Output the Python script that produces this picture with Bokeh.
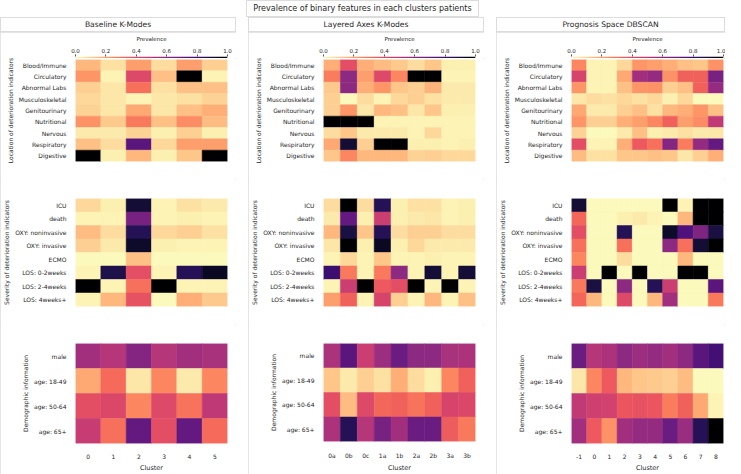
import numpy as np
from bokeh.plotting import figure
from bokeh.layouts import column, row
from bokeh.models import (ColumnDataSource, FactorRange, Range1d, LinearColorMapper,
                          FixedTicker, PrintfTickFormatter, Spacer, Div)
from bokeh.palettes import Magma256
from bokeh.transform import transform
from bokeh.embed import file_html
from bokeh.resources import INLINE

# ---------------- data ----------------
TITLE = "Prevalence of binary features in each clusters patients"
METHODS = ["Baseline K-Modes", "Layered Axes K-Modes", "Prognosis Space DBSCAN"]
GROUP_LABELS = ["Location of deterioration indicators",
                "Severity of deterioration indicators",
                "Demographic information"]
COLORBAR_LABEL = "Prevalence"
COLORBAR_TICKS = [0.0, 0.2, 0.4, 0.6, 0.8, 1.0]
X_LABEL = "Cluster"

clusters_baseline = ["0", "1", "2", "3", "4", "5"]
clusters_layered = ["0a", "0b", "0c", "1a", "1b", "2a", "2b", "3a", "3b"]
clusters_dbscan = ["-1", "0", "1", "2", "3", "4", "5", "6", "7", "8"]

location_features = ["Blood/Immune", "Circulatory", "Abnormal Labs", "Musculoskeletal",
                     "Genitourinary", "Nutritional", "Nervous", "Respiratory", "Digestive"]
severity_features = ["ICU", "death", "OXY: noninvasive", "OXY: invasive", "ECMO",
                     "LOS: 0-2weeks", "LOS: 2-4weeks", "LOS: 4weeks+"]
demographic_features = ["male", "age: 18-49", "age: 50-64", "age: 65+"]

# Baseline K-Modes (rows = features, cols = clusters 0..5)
baseline_location = [
    [0.15, 0.06, 0.20, 0.07, 0.20, 0.10],
    [0.22, 0.02, 0.40, 0.13, 1.00, 0.02],
    [0.10, 0.05, 0.30, 0.06, 0.13, 0.13],
    [0.08, 0.05, 0.02, 0.05, 0.06, 0.09],
    [0.09, 0.05, 0.18, 0.05, 0.13, 0.17],
    [0.23, 0.11, 0.28, 0.13, 0.24, 0.14],
    [0.04, 0.04, 0.09, 0.03, 0.10, 0.03],
    [0.13, 0.07, 0.72, 0.08, 0.20, 0.20],
    [1.00, 0.03, 0.15, 0.03, 0.12, 1.00],
]
baseline_severity = [
    [0.08, 0.03, 0.90, 0.02, 0.06, 0.04],
    [0.02, 0.02, 0.65, 0.02, 0.03, 0.02],
    [0.14, 0.07, 0.85, 0.08, 0.10, 0.06],
    [0.10, 0.04, 0.92, 0.03, 0.02, 0.02],
    [0.01, 0.01, 0.13, 0.01, 0.01, 0.01],
    [0.02, 0.87, 0.38, 0.02, 0.85, 0.93],
    [1.00, 0.02, 0.30, 1.00, 0.02, 0.02],
    [0.02, 0.15, 0.37, 0.01, 0.17, 0.11],
]
baseline_demographic = [
    [0.55, 0.50, 0.62, 0.50, 0.55, 0.53],
    [0.18, 0.31, 0.05, 0.25, 0.04, 0.25],
    [0.38, 0.41, 0.25, 0.40, 0.29, 0.48],
    [0.46, 0.30, 0.70, 0.38, 0.70, 0.31],
]

# Layered Axes K-Modes (cols = 0a..3b)
layered_location = [
    [0.17, 0.38, 0.17, 0.14, 0.11, 0.07, 0.12, 0.03, 0.03],
    [0.27, 0.60, 0.20, 0.40, 0.25, 1.00, 1.00, 0.02, 0.02],
    [0.11, 0.60, 0.17, 0.22, 0.12, 0.10, 0.16, 0.04, 0.04],
    [0.10, 0.01, 0.07, 0.02, 0.08, 0.10, 0.06, 0.04, 0.04],
    [0.10, 0.22, 0.05, 0.15, 0.13, 0.05, 0.12, 0.03, 0.03],
    [1.00, 1.00, 1.00, 0.02, 0.02, 0.02, 0.02, 0.02, 0.02],
    [0.07, 0.12, 0.04, 0.04, 0.04, 0.02, 0.08, 0.02, 0.02],
    [0.18, 0.90, 0.10, 1.00, 1.00, 0.03, 0.03, 0.02, 0.03],
    [0.12, 0.25, 0.15, 0.15, 0.15, 0.09, 0.10, 0.08, 0.08],
]
layered_severity = [
    [0.07, 1.00, 0.07, 0.85, 0.03, 0.06, 0.06, 0.02, 0.03],
    [0.04, 0.70, 0.03, 0.45, 0.03, 0.04, 0.05, 0.02, 0.03],
    [0.15, 0.88, 0.12, 0.85, 0.07, 0.10, 0.10, 0.07, 0.07],
    [0.05, 1.00, 0.03, 0.93, 0.03, 0.08, 0.04, 0.04, 0.04],
    [0.02, 0.08, 0.02, 0.12, 0.02, 0.02, 0.03, 0.02, 0.02],
    [0.80, 0.28, 0.02, 0.28, 0.60, 0.02, 0.90, 0.02, 0.90],
    [0.02, 0.45, 1.00, 0.35, 0.38, 1.00, 0.02, 1.00, 0.02],
    [0.20, 0.33, 0.02, 0.42, 0.10, 0.02, 0.15, 0.02, 0.13],
]
layered_demographic = [
    [0.52, 0.72, 0.45, 0.56, 0.68, 0.60, 0.60, 0.53, 0.52],
    [0.12, 0.04, 0.10, 0.06, 0.17, 0.07, 0.03, 0.25, 0.33],
    [0.38, 0.14, 0.40, 0.32, 0.33, 0.29, 0.33, 0.42, 0.41],
    [0.52, 0.85, 0.50, 0.65, 0.55, 0.68, 0.68, 0.34, 0.28],
]

# Prognosis Space DBSCAN (cols = -1..8)
dbscan_location = [
    [0.25, 0.02, 0.02, 0.08, 0.22, 0.20, 0.17, 0.13, 0.12, 0.23],
    [0.42, 0.02, 0.02, 0.18, 0.55, 0.58, 0.23, 0.33, 0.33, 0.65],
    [0.22, 0.02, 0.02, 0.13, 0.22, 0.23, 0.10, 0.13, 0.33, 0.58],
    [0.05, 0.07, 0.06, 0.08, 0.06, 0.08, 0.03, 0.08, 0.01, 0.01],
    [0.18, 0.04, 0.04, 0.10, 0.13, 0.06, 0.15, 0.17, 0.22, 0.13],
    [0.22, 0.10, 0.10, 0.17, 0.20, 0.25, 0.33, 0.20, 0.24, 0.47],
    [0.09, 0.01, 0.01, 0.04, 0.13, 0.03, 0.04, 0.06, 0.04, 0.05],
    [0.38, 0.02, 0.02, 0.17, 0.35, 0.30, 0.62, 0.27, 0.58, 0.70],
    [0.14, 0.06, 0.06, 0.12, 0.12, 0.13, 0.12, 0.05, 0.10, 0.17],
]
dbscan_severity = [
    [0.90, 0.01, 0.01, 0.01, 0.01, 0.01, 1.00, 0.02, 1.00, 1.00],
    [0.32, 0.01, 0.01, 0.03, 0.04, 0.02, 0.01, 0.15, 1.00, 1.00],
    [0.38, 0.01, 0.01, 0.85, 0.01, 0.01, 0.92, 0.75, 0.63, 0.88],
    [0.30, 0.01, 0.01, 0.30, 0.01, 0.01, 0.60, 0.30, 0.90, 1.00],
    [0.25, 0.01, 0.01, 0.07, 0.01, 0.01, 0.01, 0.15, 0.01, 0.01],
    [0.45, 0.01, 1.00, 0.01, 1.00, 0.01, 0.01, 1.00, 1.00, 0.01],
    [0.28, 0.88, 0.01, 0.60, 0.01, 0.85, 0.45, 0.01, 0.01, 0.72],
    [0.32, 0.15, 0.01, 0.40, 0.01, 0.15, 0.55, 0.01, 0.01, 0.28],
]
dbscan_demographic = [
    [0.68, 0.50, 0.52, 0.60, 0.56, 0.58, 0.55, 0.60, 0.72, 0.78],
    [0.05, 0.25, 0.35, 0.15, 0.12, 0.11, 0.10, 0.14, 0.01, 0.01],
    [0.47, 0.44, 0.43, 0.36, 0.37, 0.36, 0.27, 0.33, 0.18, 0.02],
    [0.55, 0.35, 0.23, 0.55, 0.58, 0.58, 0.68, 0.57, 0.85, 1.00],
]

# ---------------- styling ----------------
FONT = "DejaVu Sans"
TXT = "#262626"
BOX = "#dcdcdc"
mapper = LinearColorMapper(palette=list(reversed(Magma256)), low=0, high=1)

L = 66          # left border (y axis room)
F = 161         # heatmap frame width
OUTLINE = {"outline": f"1px solid {BOX}", "outline-offset": "-1px"}


def blank(fig):
    fig.grid.visible = False
    fig.outline_line_color = None
    fig.background_fill_color = "white"
    fig.border_fill_color = "white"


def sub_title_div(text, width):
    st = dict(OUTLINE)
    st.update({"font-family": FONT, "font-size": "7.6px", "color": TXT,
               "text-align": "center", "line-height": "15px", "white-space": "nowrap"})
    return Div(text=text, width=width, height=15, margin=0, styles=st)


def colorbar_fig(width, right):
    p = figure(width=width, height=26, x_range=Range1d(0, 1), y_range=Range1d(0, 1),
               x_axis_location="above", y_axis_location=None, toolbar_location=None,
               output_backend="svg", min_border_left=L, min_border_right=right,
               min_border_top=21, min_border_bottom=0)
    blank(p)
    grad = np.linspace(0, 1, 256).reshape(1, -1)
    p.image(image=[grad], x=0, y=0, dw=1, dh=1, color_mapper=mapper)
    ax = p.xaxis[0]
    ax.ticker = FixedTicker(ticks=COLORBAR_TICKS)
    ax.formatter = PrintfTickFormatter(format="%.1f")
    ax.axis_line_color = None
    ax.major_tick_out = 2
    ax.major_tick_in = 0
    ax.major_tick_line_color = "#555555"
    ax.minor_tick_line_color = None
    ax.major_label_text_font = FONT
    ax.major_label_text_font_size = "5.5px"
    ax.major_label_text_color = TXT
    ax.major_label_standoff = 2
    ax.axis_label = COLORBAR_LABEL
    ax.axis_label_text_font = FONT
    ax.axis_label_text_font_size = "5.5px"
    ax.axis_label_text_font_style = "normal"
    ax.axis_label_text_color = TXT
    ax.axis_label_standoff = 3
    return p


def heat(clusters, features, values, ylabel, width, right, top, frame_h, bottom, show_x):
    xs, ys, vs = [], [], []
    for i, f in enumerate(features):
        for j, c in enumerate(clusters):
            xs.append(c)
            ys.append(f)
            vs.append(values[i][j])
    src = ColumnDataSource(dict(x=xs, y=ys, v=vs))
    p = figure(width=width, height=top + frame_h + bottom,
               x_range=FactorRange(*clusters), y_range=FactorRange(*list(reversed(features))),
               x_axis_location="below" if show_x else None,
               toolbar_location=None, output_backend="svg",
               min_border_left=L, min_border_right=right,
               min_border_top=top, min_border_bottom=bottom)
    blank(p)
    p.rect("x", "y", 1, 1, source=src, fill_color=transform("v", mapper),
           line_color=transform("v", mapper), line_width=0.5)
    axes = list(p.yaxis) + (list(p.xaxis) if show_x else [])
    for ax in axes:
        ax.axis_line_color = None
        ax.major_tick_line_color = None
        ax.minor_tick_line_color = None
        ax.major_label_text_font = FONT
        ax.major_label_text_font_size = "6px"
        ax.major_label_text_color = TXT
        ax.major_label_standoff = 3
        ax.axis_label_text_font = FONT
        ax.axis_label_text_font_size = "6px"
        ax.axis_label_text_font_style = "normal"
        ax.axis_label_text_color = TXT
        ax.axis_label_standoff = 2
    p.yaxis.axis_label = ylabel
    if show_x:
        p.xaxis.axis_label = X_LABEL
        p.xaxis.major_label_standoff = 4
        p.xaxis.axis_label_text_font_size = "6.5px"
    return p


def method_column(idx, clusters, loc, sev, demo, right):
    width = L + F + right
    sub = sub_title_div(METHODS[idx], width)
    cb = colorbar_fig(width, right)
    f1 = heat(clusters, location_features, loc, GROUP_LABELS[0], width, right, 1, 102, 18, False)
    f2 = heat(clusters, severity_features, sev, GROUP_LABELS[1], width, right, 19, 108, 18, False)
    f3 = heat(clusters, demographic_features, demo, GROUP_LABELS[2], width, right, 19, 107, 24, True)
    body = column(cb, f1, f2, f3, spacing=0, styles=OUTLINE)
    return column(sub, body, spacing=0)


c1 = method_column(0, clusters_baseline, baseline_location, baseline_severity, baseline_demographic, 9)
c2 = method_column(1, clusters_layered, layered_location, layered_severity, layered_demographic, 9)
c3 = method_column(2, clusters_dbscan, dbscan_location, dbscan_severity, dbscan_demographic, 2)

title_div = Div(
    text=(f'<span style="display:inline-block; border:1px solid {BOX}; padding:0 6px; '
          f'line-height:15px;">{TITLE}</span>'),
    width=725, height=17, margin=0,
    styles={"font-family": FONT, "font-size": "8px", "color": TXT, "text-align": "center",
            "line-height": "17px", "white-space": "nowrap"})

layout = column(title_div, row(c1, Spacer(width=12, margin=0), c2, Spacer(width=12, margin=0), c3,
                               spacing=0), spacing=0)

open("out.html", "w").write(file_html(layout, INLINE))
